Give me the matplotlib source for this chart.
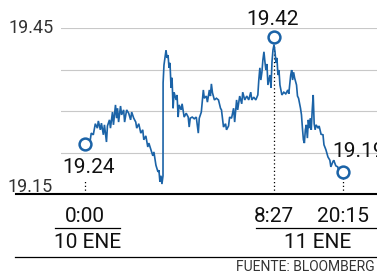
import matplotlib
matplotlib.use('Agg')
import matplotlib.pyplot as plt
import matplotlib.transforms as mtransforms
from matplotlib.lines import Line2D

# Peso mexicano por dolar, 10-11 ENE (minutos desde 10 ENE 0:00)

minutos = [
    0, 31, 52, 62, 83, 104, 125, 135, 156, 167, 187, 198, 219, 229, 250, 260,
    281, 291, 312, 323, 333, 344, 364, 375, 396, 406, 427, 448, 468, 479, 500,
    521, 531, 552, 573, 593, 604, 625, 645, 656, 677, 697, 708, 729, 750, 760,
    770, 781, 791, 802, 803, 812, 833, 843, 854, 864, 874, 885, 895, 906, 916,
    937, 947, 958, 968, 989, 999, 1020, 1041, 1062, 1072, 1083, 1103, 1124,
    1145, 1166, 1176, 1197, 1218, 1228, 1249, 1260, 1280, 1291, 1301, 1312,
    1332, 1353, 1374, 1395, 1405, 1426, 1447, 1457, 1478, 1489, 1509, 1530,
    1541, 1561, 1572, 1593, 1614, 1624, 1645, 1666, 1686, 1707, 1718, 1738,
    1759, 1780, 1790, 1801, 1811, 1822, 1832, 1843, 1853, 1863, 1874, 1884,
    1905, 1916, 1926, 1936, 1947, 1957, 1967, 1977, 1987, 1998, 2008, 2028,
    2048, 2068, 2089, 2099, 2119, 2129, 2139, 2149, 2159, 2179, 2189, 2200,
    2220, 2230, 2240, 2250, 2260, 2270, 2280, 2291, 2301, 2311, 2321, 2331,
    2341, 2351, 2361, 2371, 2381, 2402, 2412, 2432, 2452, 2462, 2482, 2503,
    2523, 2533, 2553, 2563, 2584, 2604, 2614, 2634, 2655,
]
precio = [
    19.240, 19.242, 19.248, 19.260, 19.257, 19.277, 19.269, 19.282, 19.266,
    19.278, 19.257, 19.275, 19.244, 19.273, 19.284, 19.269, 19.298, 19.275,
    19.311, 19.287, 19.305, 19.280, 19.309, 19.293, 19.302, 19.280, 19.302,
    19.296, 19.284, 19.298, 19.287, 19.280, 19.269, 19.277, 19.260, 19.266,
    19.248, 19.255, 19.235, 19.242, 19.230, 19.219, 19.226, 19.202, 19.190,
    19.193, 19.172, 19.183, 19.168, 19.183, 19.351, 19.383, 19.410, 19.396,
    19.401, 19.378, 19.387, 19.342, 19.360, 19.305, 19.334, 19.320, 19.329,
    19.289, 19.311, 19.302, 19.313, 19.289, 19.296, 19.289, 19.271, 19.287,
    19.289, 19.286, 19.289, 19.260, 19.287, 19.298, 19.338, 19.323, 19.327,
    19.316, 19.338, 19.327, 19.349, 19.333, 19.320, 19.323, 19.320, 19.305,
    19.302, 19.271, 19.277, 19.266, 19.273, 19.289, 19.287, 19.305, 19.280,
    19.320, 19.302, 19.327, 19.313, 19.334, 19.320, 19.327, 19.320, 19.334,
    19.320, 19.325, 19.320, 19.329, 19.356, 19.378, 19.356, 19.370, 19.392,
    19.407, 19.389, 19.374, 19.385, 19.347, 19.365, 19.342, 19.389, 19.410,
    19.420, 19.407, 19.387, 19.396, 19.365, 19.374, 19.347, 19.329, 19.334,
    19.331, 19.338, 19.331, 19.365, 19.374, 19.356, 19.370, 19.360, 19.347,
    19.327, 19.323, 19.305, 19.293, 19.269, 19.248, 19.242, 19.266, 19.275,
    19.251, 19.284, 19.269, 19.287, 19.266, 19.302, 19.329, 19.277, 19.266,
    19.275, 19.269, 19.273, 19.258, 19.257, 19.239, 19.230, 19.217, 19.211,
    19.199, 19.208, 19.211, 19.201, 19.199, 19.192, 19.193, 19.190,
]

y_grid = [19.15, 19.225, 19.30, 19.375, 19.45]
y_etiquetas = ['19.15', '19.45']

# puntos destacados: inicio, maximo, cierre
idx_inicio = 0
idx_max = minutos.index(1947)
idx_fin = len(minutos) - 1
etiqueta_inicio = '19.24'
etiqueta_max = '19.42'
etiqueta_fin = '19.19'

horas_pos = [0, 1947, 2655]
horas_txt = ['0:00', '8:27', '20:15']
dias_txt = ['10 ENE', '11 ENE']
dias_rango = [(-312, 354), (1760, 3030)]

AZUL = '#1b63a7'

plt.rcParams['font.family'] = ['Roboto', 'DejaVu Sans']

fig = plt.figure(figsize=(3.77, 2.74), dpi=100)
ax = fig.add_axes([61 / 377, 80 / 274, 316 / 377, 166 / 274])
ax.set_xlim(-250, 3009)
ax.set_ylim(19.15, 19.45)
for s in ax.spines.values():
    s.set_visible(False)
ax.set_xticks([])
ax.set_yticks([])

# lineas guia
for y in y_grid[1:]:
    ax.axhline(y, color='#c8c8c8', lw=0.8, zorder=1)

# linea base
fig.add_artist(Line2D([16 / 377, 1], [80 / 274, 80 / 274], color='black', lw=1.5))

ax.plot(minutos, precio, color=AZUL, lw=1.2, zorder=3, solid_joinstyle='miter')

# lineas punteadas
punteado = dict(color='black', lw=0.9, ls=(0, (1, 2)), zorder=2)
ax.plot([minutos[idx_inicio]] * 2, [19.15, 19.173], **punteado)
ax.plot([minutos[idx_max]] * 2, [19.15, precio[idx_max]], **punteado)
ax.plot([minutos[idx_fin]] * 2, [19.15, precio[idx_fin]], **punteado)

marcador = dict(marker='o', ms=8.5, mfc='white', mec=AZUL, mew=1.8, zorder=5, clip_on=False)
ax.plot(minutos[idx_inicio], precio[idx_inicio], **marcador)
ax.plot(minutos[idx_fin], precio[idx_fin], **marcador)
sube = ax.transData + mtransforms.ScaledTranslation(0, 5.5 / 72, fig.dpi_scale_trans)
ax.plot(minutos[idx_max], precio[idx_max], transform=sube, **marcador)

txt = dict(textcoords='offset points', fontsize=15, color='#111111', annotation_clip=False)
ax.annotate(etiqueta_inicio, (minutos[idx_inicio], precio[idx_inicio]), xytext=(2.2, -16.5),
            ha='center', va='center', **txt)
ax.annotate(etiqueta_max, (minutos[idx_max], precio[idx_max]), xytext=(-0.7, 18),
            ha='center', va='center', **txt)
ax.annotate(etiqueta_fin, (minutos[idx_fin], precio[idx_fin]), xytext=(-7.5, 14.5),
            ha='left', va='center', **txt)

# etiquetas eje y
ax.annotate(y_etiquetas[1], (0, 19.45), xycoords=('figure fraction', 'data'),
            xytext=(54 * 0.72, 0), textcoords='offset points',
            ha='right', va='center', fontsize=13, color='#333333')
ax.annotate(y_etiquetas[0], (0, 19.15), xycoords=('figure fraction', 'data'),
            xytext=(53 * 0.72, 1.6), textcoords='offset points',
            ha='right', va='baseline', fontsize=13, color='#333333')

# eje x: horas y dias
mezcla = mtransforms.blended_transform_factory(ax.transData, fig.transFigure)
for x, t in zip(horas_pos, horas_txt):
    ax.text(x, 1 - 216.5 / 274, t, transform=mezcla, ha='center', va='center',
            fontsize=15, color='#111111')
for (x0, x1), t in zip(dias_rango, dias_txt):
    ax.add_artist(Line2D([x0, x1], [1 - 228 / 274] * 2, transform=mezcla,
                         color='black', lw=0.9, clip_on=False))
    ax.text((x0 + x1) / 2, 1 - 242.5 / 274, t, transform=mezcla, ha='center',
            va='center', fontsize=15, color='#111111')

fig.add_artist(Line2D([15 / 377, 1], [1 - 257 / 274] * 2, color='black', lw=0.9))
fig.text(236 / 377, 1 - 267 / 274, 'FUENTE: BLOOMBERG', ha='left', va='center',
         fontsize=10, color='#333333')

fig.savefig('out.png', dpi=100)
